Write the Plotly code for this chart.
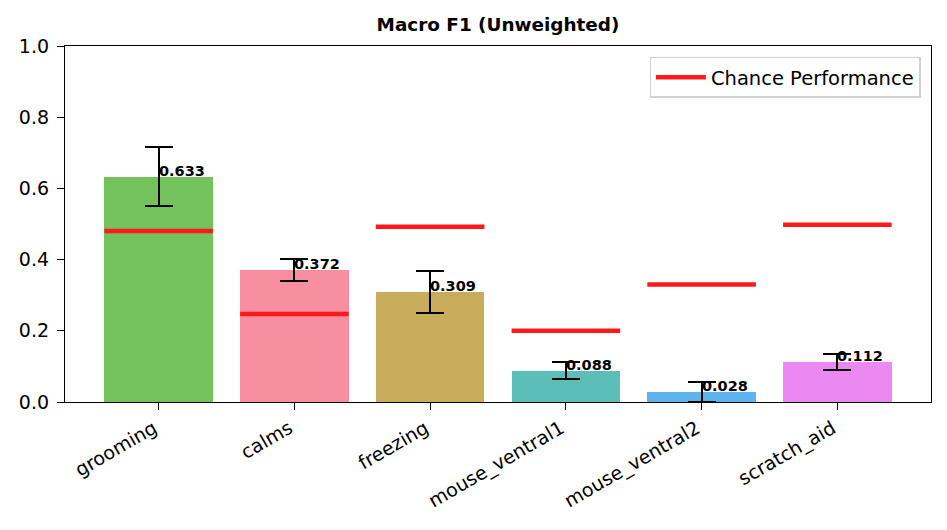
import plotly.graph_objects as go

categories = ["grooming", "calms", "freezing", "mouse_ventral1", "mouse_ventral2", "scratch_aid"]
f1_values = [0.633, 0.372, 0.309, 0.088, 0.028, 0.112]
f1_errors = [0.083, 0.031, 0.058, 0.023, 0.027, 0.023]
chance_values = [0.480, 0.247, 0.492, 0.200, 0.330, 0.498]
bar_colors = ["#73c25b", "#f88fa1", "#c9ac5b", "#5dbdb7", "#5db3ed", "#ec88f2"]

xs = list(range(len(categories)))
half = 0.4

# page body has an 8px margin: compensate so the plot lands where the reference has it
OFF = 8
L, R, T, B = 65 - OFF, 931 - OFF, 46 - OFF, 402 - OFF
W, H = 947, 530

fig = go.Figure()
fig.add_trace(go.Bar(
    x=xs, y=f1_values, width=0.8,
    marker=dict(color=bar_colors, line=dict(width=0)),
    error_y=dict(type="data", array=f1_errors, visible=True, color="black", thickness=2, width=14),
    showlegend=False, hoverinfo="skip",
))

cx, cy = [], []
for i, c in zip(xs, chance_values):
    cx += [i - half, i + half, None]
    cy += [c, c, None]
fig.add_trace(go.Scatter(
    x=cx, y=cy, mode="lines", line=dict(color="#ff1a1a", width=4.5),
    name="Chance Performance",
))

for i, v in zip(xs, f1_values):
    fig.add_annotation(x=i, y=v, text=f"<b>{v:.3f}</b>", showarrow=False,
                       xanchor="left", yanchor="bottom", xshift=-2, yshift=-4,
                       font=dict(size=14.5, color="black", family="DejaVu Sans"))

fig.update_layout(
    width=W, height=H,
    margin=dict(l=L, r=W - R, t=T, b=H - B),
    paper_bgcolor="white", plot_bgcolor="white",
    font=dict(family="DejaVu Sans", size=19, color="black"),
    title=dict(text="<b>Macro F1 (Unweighted)</b>", x=(L + R) / 2 / W, xanchor="center",
               y=1 - (25 - OFF) / H, yanchor="middle", font=dict(size=18.4)),
    bargap=0,
    legend=dict(x=0.988, y=0.97, xanchor="right", yanchor="top",
                bgcolor="white", bordercolor="#d0d0d0", borderwidth=1.3,
                itemwidth=50, font=dict(size=19.5)),
)
fig.update_xaxes(range=[-0.69, 5.69], tickvals=xs, ticktext=categories, tickangle=-30,
                 ticklabelshift=-5,
                 showline=True, linecolor="black", linewidth=1.3, mirror=True,
                 ticks="outside", ticklen=7, tickcolor="black", showgrid=False, zeroline=False)
fig.update_yaxes(range=[0, 1.0], tickvals=[0, 0.2, 0.4, 0.6, 0.8, 1.0],
                 ticktext=["0.0", "0.2", "0.4", "0.6", "0.8", "1.0"],
                 ticklabelstandoff=4,
                 showline=True, linecolor="black", linewidth=1.3, mirror=True,
                 ticks="outside", ticklen=7, tickcolor="black", showgrid=False, zeroline=False)

fig.write_html("out.html")
